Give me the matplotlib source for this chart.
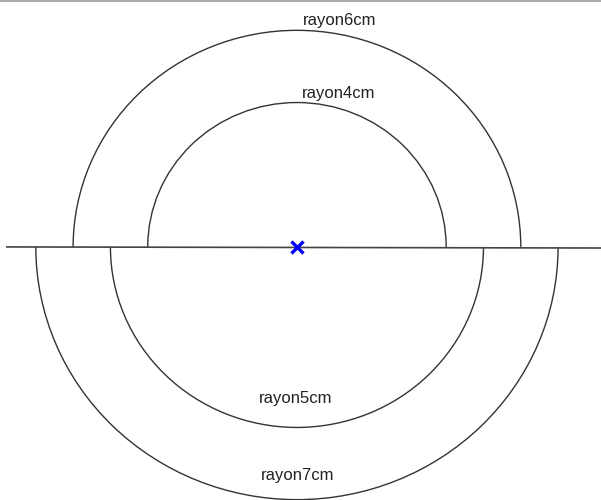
import matplotlib
matplotlib.use("Agg")
import matplotlib.pyplot as plt
from matplotlib.patches import Arc

# Data
top_radii = [6, 4]          # upper half-circles (cm)
bottom_radii = [5, 7]       # lower half-circles (cm)
top_labels = ["rayon6cm", "rayon4cm"]
bottom_labels = ["rayon5cm", "rayon7cm"]
center = (0.0, 0.0)

fig = plt.figure(figsize=(6.01, 5.0), dpi=100)
ax = fig.add_axes([0, 0, 1, 1])
ax.set_xlim(-7.96, 8.15)
ax.set_ylim(-7.01, 6.84)
ax.set_aspect("auto")
ax.axis("off")

arc_color = "#333333"
for r in top_radii:
    ax.add_patch(Arc(center, 2 * r, 2 * r, theta1=0, theta2=180,
                     color=arc_color, lw=1.0))
for r in bottom_radii:
    ax.add_patch(Arc(center, 2 * r, 2 * r, theta1=180, theta2=360,
                     color=arc_color, lw=1.0))

# horizontal line
ax.plot([-7.8, 8.2], [0, -0.03], color="#444444", lw=1.2, solid_capstyle="butt")

# center cross
ax.plot([center[0]], [center[1]], marker="x", color="#0000ff",
        markersize=9, markeredgewidth=2.4)

font = dict(family=["Liberation Sans", "DejaVu Sans"], fontsize=12,
            color="#222222", ha="center", va="center")
# labels positioned relative to arcs
ax.text(1.15, top_radii[0] + 0.27, top_labels[0], **font)
ax.text(1.12, top_radii[1] + 0.25, top_labels[1], **font)
ax.text(-0.03, -bottom_radii[0] + 0.80, bottom_labels[0], **font)
ax.text(0.03, -bottom_radii[1] + 0.66, bottom_labels[1], **font)

# top frame line
fig.add_artist(plt.Line2D([0, 1], [0.999, 0.999], transform=fig.transFigure,
                          color="#aaaaaa", lw=1.5))

fig.savefig("out.png", dpi=100)
